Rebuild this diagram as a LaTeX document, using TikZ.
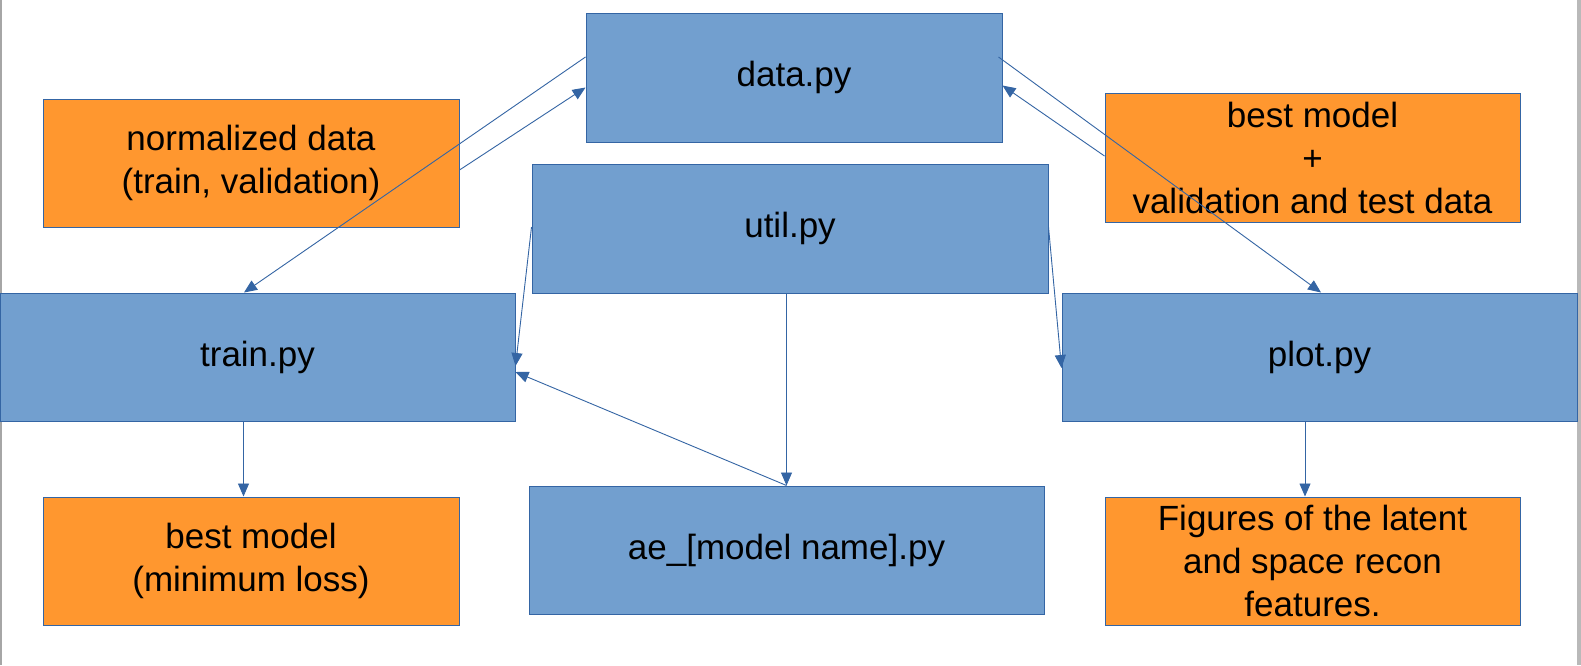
\documentclass[tikz,border=0pt]{standalone}
\usepackage{fontspec}
\setmainfont{Liberation Sans}
\usetikzlibrary{arrows.meta}
\definecolor{boxblue}{HTML}{729FCF}
\definecolor{lineblue}{HTML}{3465A4}
\definecolor{boxorange}{HTML}{FF972F}
\tikzset{
  filebox/.style={draw=lineblue, line width=1pt, fill=boxblue, inner sep=0pt, align=center,
    font=\fontsize{35}{43}\selectfont},
  notebox/.style={draw=lineblue, line width=1pt, fill=boxorange, inner sep=0pt, align=center,
    font=\fontsize{35}{43}\selectfont},
  conn/.style={draw=lineblue, line width=0.9pt, -{Triangle[length=13pt,width=11pt]}}
}
\begin{document}
\begin{tikzpicture}[x=1pt,y=-1pt]
\useasboundingbox (0,0) rectangle (1581,665);
\fill[white] (0,0) rectangle (1581,665);
\fill[gray!70] (0,0) rectangle (1.5,665);
\fill[gray!55] (1577,0) rectangle (1581,665);

% blue file boxes
\node[filebox, minimum width=416pt, minimum height=129pt] (data)  at (794,77.5)   {data.py};
\node[filebox, minimum width=516pt, minimum height=129pt] (util)  at (790,228.5)  {util.py};
\node[filebox, minimum width=515pt, minimum height=128pt] (train) at (257.5,357)  {train.py};
\node[filebox, minimum width=515pt, minimum height=128pt] (plot)  at (1319.5,357) {plot.py};
\node[filebox, minimum width=515pt, minimum height=128pt] (ae)    at (786.5,550)  {ae\_[model name].py};

% orange notes
\node[notebox, minimum width=416pt, minimum height=128pt] (norm)    at (251,163)    {normalized data\\(train, validation)};
\node[notebox, minimum width=415pt, minimum height=129pt] (bestval) at (1312.5,157.5) {best model\\+\\validation and test data};
\node[notebox, minimum width=416pt, minimum height=128pt] (bestmin) at (251,561)    {best model\\(minimum loss)};
\node[notebox, minimum width=415pt, minimum height=128pt] (figs)    at (1312.5,561) {Figures of the latent\\and space recon\\features.};

% connectors
\draw[conn] ([yshift=-7pt]norm.east) -- ([yshift=-10pt]data.west);
\draw[conn] ([yshift=1.5pt]bestval.west) -- ([yshift=-8pt]data.east);
\draw[conn] ([yshift=20.5pt]data.west) -- ([xshift=-13.5pt]train.north);
\draw[conn] ([xshift=-4pt,yshift=20.5pt]data.east) -- ([xshift=1.5pt]plot.north);
\draw[conn] ([yshift=1.5pt]util.west) -- ([yshift=-9pt]train.east);
\draw[conn] (ae.north) -- ([yshift=-15pt]train.east);
\draw[conn] (ae.north |- util.south) -- (ae.north);
\draw[conn] ([yshift=1.5pt]util.east) -- ([yshift=-11pt]plot.west);
\draw[conn] ([xshift=-14pt]train.south) -- ([xshift=-14pt]train.south |- bestmin.north);
\draw[conn] ([xshift=-14.5pt]plot.south) -- ([xshift=-14.5pt]plot.south |- figs.north);
\end{tikzpicture}
\end{document}
